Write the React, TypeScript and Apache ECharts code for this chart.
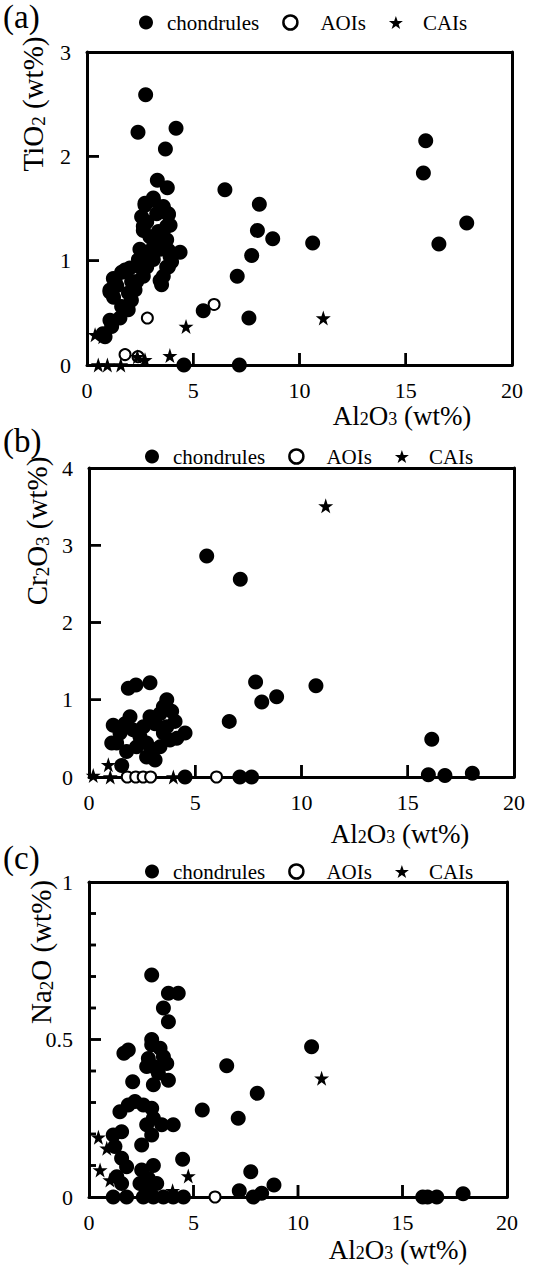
import React, { useEffect, useRef } from 'react';
import * as echarts from 'echarts';

const FONT = '"Liberation Serif", "DejaVu Serif", serif';

// ---------- Data (Al2O3 wt%, oxide wt%) ----------
const aChondrules: number[][] = [
  [15.94, 2.15], [15.83, 1.84], [17.87, 1.36], [16.56, 1.16], [10.62, 1.17],
  [6.49, 1.68], [8.11, 1.54], [8.02, 1.29], [8.74, 1.21], [7.75, 1.05], [7.07, 0.85],
  [5.47, 0.52], [7.62, 0.45], [7.17, 0], [4.56, 0], [4.38, 1.08],
  [2.76, 2.59], [2.4, 2.23], [4.19, 2.27], [3.69, 2.07], [3.31, 1.77], [3.78, 1.7],
  [0.75, 0.3], [0.85, 0.27], [1.16, 0.37], [1.08, 0.43], [1.55, 0.45], [1.63, 0.56],
  [1.94, 0.53], [1.95, 0.69], [2.09, 0.62], [2.1, 0.8], [2.26, 0.72], [2.34, 0.8],
  [1.08, 0.72], [1.08, 0.7], [1.24, 0.83], [1.32, 0.81], [1.63, 0.89], [1.79, 0.91],
  [2.02, 0.93], [1.4, 0.76], [1.25, 0.65],
  [2.49, 0.94], [2.65, 0.85], [2.81, 0.94], [2.81, 1.04], [3.12, 1.01], [3.12, 1.13],
  [3.44, 1.11], [3.44, 0.81], [3.59, 0.85], [3.51, 0.77], [3.75, 0.94], [3.83, 0.94],
  [3.91, 1.04], [3.98, 0.99], [3.59, 1.2], [3.44, 1.26], [3.2, 1.18], [2.96, 1.23],
  [2.65, 1.29], [2.65, 1.33], [2.57, 1.42], [2.73, 1.53], [2.73, 1.55], [3.12, 1.58],
  [3.12, 1.6], [3.59, 1.5], [3.59, 1.52], [3.83, 1.44], [3.83, 1.45], [3.91, 1.34],
  [3.75, 1.33], [3.75, 1.2], [3.28, 1.45], [2.81, 1.37], [3.83, 1.1], [2.42, 1.01],
  [2.49, 1.11], [3.36, 1.28],
];
const aAOIs: number[][] = [[5.98, 0.58], [2.84, 0.45], [1.79, 0.1], [2.4, 0.08]];
const aCAIs: number[][] = [
  [11.12, 0.45], [4.66, 0.37], [0.38, 0.29], [0.74, 0.27], [2.37, 0.08], [2.73, 0.05],
  [3.9, 0.09], [0.53, 0], [0.96, 0], [1.59, 0],
];

const bChondrules: number[][] = [
  [5.54, 2.86], [7.12, 2.56], [7.84, 1.23], [8.13, 0.97], [8.83, 1.04], [10.68, 1.18],
  [6.6, 0.72], [16.13, 0.49], [15.97, 0.03], [16.75, 0.02], [18.04, 0.05], [7.1, 0],
  [7.65, 0], [4.52, 0], [1.54, 0.15],
  [1.85, 1.15], [2.21, 1.19], [2.87, 1.22], [1.93, 0.78], [1.14, 0.67], [1.07, 0.44],
  [1.77, 0.33], [3.11, 0.22], [3.66, 1.0], [3.89, 0.85], [4.52, 0.57], [4.13, 0.5],
  [1.46, 0.57], [2.4, 0.52], [2.71, 0.44], [3.34, 0.39], [3.11, 0.69], [3.34, 0.82],
  [2.87, 0.78], [2.56, 0.65], [3.66, 0.65], [3.81, 0.48], [3.5, 0.57], [2.08, 0.61],
  [1.69, 0.69], [2.24, 0.39], [3.03, 0.35], [4.05, 0.72], [3.5, 0.91], [1.3, 0.44],
  [2.71, 0.26],
];
const bAOIs: number[][] = [[1.8, 0], [2.2, 0], [2.55, 0], [2.9, 0], [6.0, 0]];
const bCAIs: number[][] = [[11.14, 3.51], [0.91, 0.16], [0.2, 0.02], [1.0, 0], [3.97, 0]];

const cChondrules: number[][] = [
  [3.0, 0.705], [3.8, 0.647], [4.27, 0.647], [3.56, 0.6], [3.8, 0.556], [10.65, 0.477],
  [6.59, 0.417], [8.05, 0.329], [5.42, 0.276], [7.14, 0.25], [4.48, 0.12], [7.74, 0.08],
  [8.85, 0.038], [7.19, 0.02], [7.86, 0], [8.26, 0.012], [15.97, 0], [16.2, 0],
  [16.64, 0], [17.9, 0.01],
  [1.67, 0.456], [1.88, 0.467], [3.0, 0.483], [3.0, 0.5], [2.84, 0.44], [3.56, 0.445],
  [3.72, 0.424], [3.08, 0.414], [3.32, 0.393], [3.8, 0.371], [3.08, 0.356], [2.76, 0.414],
  [3.4, 0.472], [2.09, 0.366], [2.2, 0.303], [2.6, 0.292], [3.0, 0.282], [1.48, 0.271],
  [1.88, 0.292], [3.08, 0.25], [2.76, 0.229], [3.48, 0.229], [4.03, 0.229], [3.0, 0.197],
  [2.52, 0.165], [1.56, 0.207], [1.16, 0.197], [1.24, 0.16], [1.56, 0.123], [1.8, 0.096],
  [1.33, 0.064], [1.56, 0.043], [2.52, 0.086], [3.08, 0.1], [2.84, 0.059], [2.44, 0.043],
  [3.24, 0.043], [2.76, 0.022], [1.16, 0], [1.8, 0], [2.6, 0], [3.08, 0], [3.56, 0],
  [4.03, 0], [4.52, 0],
];
const cAOIs: number[][] = [[6.03, 0]];
const cCAIs: number[][] = [
  [11.13, 0.377], [4.75, 0.067], [0.45, 0.19], [0.85, 0.155], [0.53, 0.086], [1.0, 0.054],
  [4.0, 0.02],
];

const xTicks = { min: 0, max: 20, interval: 5 };
const yRanges = [
  { min: 0, max: 3, interval: 1 },
  { min: 0, max: 4, interval: 1 },
  { min: 0, max: 1, interval: 0.5 },
];
// inward tick marks (values on the axes)
const xTickValues = [5, 10, 15];
const yTickValues = [[1, 2], [1, 2, 3], [0.5]];
const cMinorTickValues = [0.1, 0.2, 0.3, 0.4, 0.6, 0.7, 0.8, 0.9];

const panelLabels = ['(a)', '(b)', '(c)'];
const yNames = [
  '{m|TiO}{s|2}{m| (wt%)}',
  '{m|Cr}{s|2}{m|O}{s|3}{m| (wt%)}',
  '{m|Na}{s|2}{m|O (wt%)}',
];
const xName = '{m|Al}{s|2}{m|O}{s|3}{m| (wt%)}';
const seriesNames = ['chondrules', 'AOIs', 'CAIs'];

const STAR =
  'path://M50,0 L61.8,35.1 98.1,35.1 68.8,56.7 79.4,90.9 50,69.9 20.6,90.9 31.2,56.7 1.9,35.1 38.2,35.1 Z';

// layout
const grids = [
  { left: 87, top: 52, width: 425, height: 313 },
  { left: 89, top: 468, width: 425, height: 309 },
  { left: 89, top: 882, width: 418, height: 315 },
];
const legendPos = [
  { left: 139, top: 12 },
  { left: 145, top: 446 },
  { left: 145, top: 861 },
];
const labelY = [17, 441, 858];
const yNamePos = [
  { x: 33, y: 104 },
  { x: 37, y: 531 },
  { x: 41, y: 952 },
];
const xNamePos = [
  { x: 402, y: 415 },
  { x: 400, y: 833 },
  { x: 398, y: 1249 },
];
const TICK = 12;
const MINOR = 7;

const yRich = {
  m: { fontSize: 29, fontFamily: FONT, lineHeight: 30, verticalAlign: 'top', fill: '#000' },
  s: {
    fontSize: 19, fontFamily: FONT, lineHeight: 19, padding: [20, 0, 0, 0],
    verticalAlign: 'bottom', fill: '#000',
  },
};
const xRich = {
  m: { fontSize: 27, fontFamily: FONT, lineHeight: 26, verticalAlign: 'top', fill: '#000' },
  s: {
    fontSize: 18, fontFamily: FONT, lineHeight: 18, padding: [18, 0, 0, 0],
    verticalAlign: 'bottom', fill: '#000',
  },
};

export default function App() {
  const ref = useRef<HTMLDivElement>(null);

  useEffect(() => {
    if (!ref.current) return;
    const chart = echarts.init(ref.current, undefined, { renderer: 'svg' });
    const panels = [
      [aChondrules, aAOIs, aCAIs],
      [bChondrules, bAOIs, bCAIs],
      [cChondrules, cAOIs, cCAIs],
    ];

    const line = () => ({ show: true, onZero: false, lineStyle: { color: '#000', width: 3 } });
    const off = () => ({ show: false });
    const labelBase = () => ({ show: true, color: '#000', fontFamily: FONT, fontSize: 22 });

    const xAxis: any[] = [];
    const yAxis: any[] = [];
    grids.forEach((_, i) => {
      xAxis.push({
        type: 'value', gridIndex: i, position: 'bottom', min: xTicks.min, max: xTicks.max,
        interval: xTicks.interval, axisLine: line(), axisTick: off(),
        splitLine: off(), axisLabel: { ...labelBase(), margin: 14 },
      });
      yAxis.push({
        type: 'value', gridIndex: i, position: 'left', min: yRanges[i].min, max: yRanges[i].max,
        interval: yRanges[i].interval, axisLine: line(), axisTick: off(),
        splitLine: off(), axisLabel: { ...labelBase(), margin: 16 },
      });
    });
    // frame: top and right edges
    grids.forEach((_, i) => {
      xAxis.push({
        type: 'value', gridIndex: i, position: 'top', min: xTicks.min, max: xTicks.max,
        axisLine: line(), axisTick: off(), axisLabel: off(), splitLine: off(),
      });
      yAxis.push({
        type: 'value', gridIndex: i, position: 'right', min: yRanges[i].min, max: yRanges[i].max,
        axisLine: line(), axisTick: off(), axisLabel: off(), splitLine: off(),
      });
    });

    const series: any[] = [];
    panels.forEach((p, i) => {
      series.push({
        type: 'scatter', name: seriesNames[0], xAxisIndex: i, yAxisIndex: i, data: p[0],
        symbol: 'circle', symbolSize: 15, itemStyle: { color: '#000', opacity: 1 }, z: 2, clip: false,
      });
      series.push({
        type: 'scatter', name: seriesNames[1], xAxisIndex: i, yAxisIndex: i, data: p[1],
        symbol: 'circle', symbolSize: 11,
        itemStyle: { color: '#fff', borderColor: '#000', borderWidth: 2, opacity: 1 }, z: 3, clip: false,
      });
      series.push({
        type: 'scatter', name: seriesNames[2], xAxisIndex: i, yAxisIndex: i, data: p[2],
        symbol: STAR, symbolSize: 15, itemStyle: { color: '#000', opacity: 1 }, z: 4, clip: false,
      });
    });

    // inward tick marks as custom series, positioned with the axes' scales
    const tickSeries = (i: number, data: number[][], dir: 'x' | 'y', len: number) => ({
      type: 'custom', coordinateSystem: 'cartesian2d', xAxisIndex: i, yAxisIndex: i,
      data, z: 10, silent: true, clip: false,
      renderItem: (_params: any, api: any) => {
        const p = api.coord([api.value(0), api.value(1)]);
        const shape = dir === 'x'
          ? { x1: p[0], y1: p[1], x2: p[0], y2: p[1] - len }
          : { x1: p[0], y1: p[1], x2: p[0] + len, y2: p[1] };
        return { type: 'line', shape, style: { stroke: '#000', lineWidth: 2.5 } };
      },
    });
    grids.forEach((_, i) => {
      series.push(tickSeries(i, xTickValues.map((v) => [v, yRanges[i].min]), 'x', TICK));
      series.push(tickSeries(i, yTickValues[i].map((v) => [xTicks.min, v]), 'y', TICK));
    });
    series.push(tickSeries(2, cMinorTickValues.map((v) => [xTicks.min, v]), 'y', MINOR));

    const graphic: any[] = [];
    panelLabels.forEach((t, i) => {
      graphic.push({
        type: 'text', x: 3, y: labelY[i],
        style: { text: t, fontSize: 33, fontFamily: FONT, fill: '#000', align: 'left', verticalAlign: 'middle' },
      });
      graphic.push({
        type: 'text', x: yNamePos[i].x, y: yNamePos[i].y, rotation: Math.PI / 2,
        style: {
          text: yNames[i], fontSize: 29, fontFamily: FONT, fill: '#000',
          align: 'center', verticalAlign: 'middle', rich: yRich,
        },
      });
      graphic.push({
        type: 'text', x: xNamePos[i].x, y: xNamePos[i].y,
        style: {
          text: xName, fontSize: 27, fontFamily: FONT, fill: '#000',
          align: 'center', verticalAlign: 'middle', rich: xRich,
        },
      });
    });

    chart.setOption({
      animation: false,
      backgroundColor: '#fff',
      grid: grids.map((g) => ({ ...g, show: false, containLabel: false, outerBoundsMode: 'none' })),
      xAxis,
      yAxis,
      legend: grids.map((_, i) => ({
        left: legendPos[i].left, top: legendPos[i].top, padding: 0, itemGap: 23,
        itemWidth: 14, itemHeight: 14, selectedMode: false, orient: 'horizontal',
        textStyle: { color: '#000', fontFamily: FONT, fontSize: 21 },
        data: [
          { name: 'chondrules', icon: 'circle', itemStyle: { color: '#000', opacity: 1 }, textStyle: { padding: [0, 0, 0, 9] } },
          {
            name: 'AOIs', icon: 'circle',
            itemStyle: { color: '#fff', borderColor: '#000', borderWidth: 2.5, opacity: 1 },
            textStyle: { padding: [0, 0, 0, 18] },
          },
          { name: 'CAIs', icon: STAR, itemStyle: { color: '#000', opacity: 1 }, textStyle: { padding: [0, 0, 0, 15] } },
        ],
      })),
      graphic,
      series,
    });

    // fallback tick lines via graphic, in case the custom series is not drawn
    try {
      const tickEls: any[] = [];
      const seg = (x1: number, y1: number, x2: number, y2: number) => ({
        type: 'line', z: 100, silent: true,
        shape: { x1, y1, x2, y2 },
        style: { stroke: '#000', lineWidth: 2.5 },
      });
      const toPx = (i: number, v: number[]) => {
        const r = chart.convertToPixel({ gridIndex: i } as any, v) as any;
        if (Array.isArray(r) && isFinite(r[0]) && isFinite(r[1])) return r as number[];
        const g = grids[i];
        const yr = yRanges[i];
        return [
          g.left + ((v[0] - xTicks.min) / (xTicks.max - xTicks.min)) * g.width,
          g.top + g.height - ((v[1] - yr.min) / (yr.max - yr.min)) * g.height,
        ];
      };
      grids.forEach((_, i) => {
        xTickValues.forEach((v) => {
          const p = toPx(i, [v, yRanges[i].min]);
          tickEls.push(seg(p[0], p[1], p[0], p[1] - TICK));
        });
        yTickValues[i].forEach((v) => {
          const p = toPx(i, [xTicks.min, v]);
          tickEls.push(seg(p[0], p[1], p[0] + TICK, p[1]));
        });
      });
      cMinorTickValues.forEach((v) => {
        const p = toPx(2, [xTicks.min, v]);
        tickEls.push(seg(p[0], p[1], p[0] + MINOR, p[1]));
      });
      chart.setOption({ graphic: [...graphic, ...tickEls] });
    } catch (e) {
      // keep the chart as drawn
    }

    return () => chart.dispose();
  }, []);

  return (
    <div
      ref={ref}
      style={{ position: 'absolute', left: 0, top: 0, width: 534, height: 1267, background: '#fff' }}
    />
  );
}
